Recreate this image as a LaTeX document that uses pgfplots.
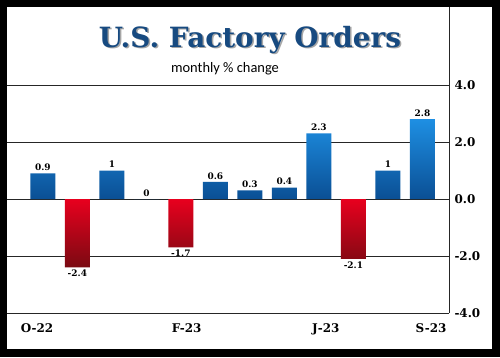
\documentclass[border=0pt]{standalone}
\usepackage{graphicx}
\usepackage{pgfplots}
\pgfplotsset{compat=1.18}
\usepackage{fontspec}
\setmainfont{DejaVu Serif}
\newfontfamily\carlito{Carlito}
\definecolor{barblue1}{HTML}{1E8FE3}
\definecolor{barblue2}{HTML}{0A4F94}
\definecolor{barred1}{HTML}{E8001E}
\definecolor{barred2}{HTML}{7A0A12}
\definecolor{titleblue}{HTML}{174A80}
\begin{document}
\begin{tikzpicture}[x=1bp,y=1bp]
\fill[black] (0,0) rectangle (500,357);
\fill[white] (7,8) rectangle (492,350);
\begin{axis}[
  at={(7bp,44bp)}, anchor=south west,
  scale only axis, width=442bp, height=228bp,
  xmin=-1.04, xmax=11.77, ymin=-4, ymax=4,
  axis line style={draw=none},
  ytick={-4,-2,0,2,4}, yticklabels={-4.0,-2.0,0.0,2.0,4.0},
  yticklabel pos=right,
  ymajorgrids, grid style={black!85, line width=0.7bp},
  major tick length=0pt,
  xtick={-0.17,4.17,8.2,11.25}, xticklabels={O-22,F-23,J-23,S-23},
  ticklabel style={font=\bfseries\fontsize{12}{14}\selectfont},
  yticklabel style={xshift=2bp},
  xticklabel style={yshift=-7bp},
  ybar, bar width=25bp, bar shift=0pt,
  point meta=explicit symbolic,
  nodes near coords,
  every node near coord/.append style={font=\bfseries\fontsize{9}{10}\selectfont, inner sep=2.5bp, text=black},
  clip=false,
]
\addplot[draw=none, top color=barblue1, bottom color=barblue2,
  every node near coord/.append style={anchor=south}] coordinates {(0,0.9)[0.9] (2,1)[1] (3,0)[0] (5,0.6)[0.6] (6,0.3)[0.3] (7,0.4)[0.4] (8,2.3)[2.3] (10,1)[1] (11,2.8)[2.8]};
\addplot[draw=none, top color=barred1, bottom color=barred2,
  every node near coord/.append style={anchor=north}] coordinates {(1,-2.4)[-2.4] (4,-1.7)[-1.7] (9,-2.1)[-2.1]};
\end{axis}
\draw[black!85, line width=0.8bp] (449,44) -- (449,350);
\node[anchor=base, text=black!35, font=\bfseries\fontsize{28}{32}\selectfont] at (251.5,308.5) {U.S. Factory Orders};
\node[anchor=base, text=titleblue, font=\bfseries\fontsize{28}{32}\selectfont] at (250,310) {U.S. Factory Orders};
\node[anchor=base, font=\carlito\fontsize{14.5}{16}\selectfont] at (225,285) {monthly \% change};
\end{tikzpicture}
\end{document}
